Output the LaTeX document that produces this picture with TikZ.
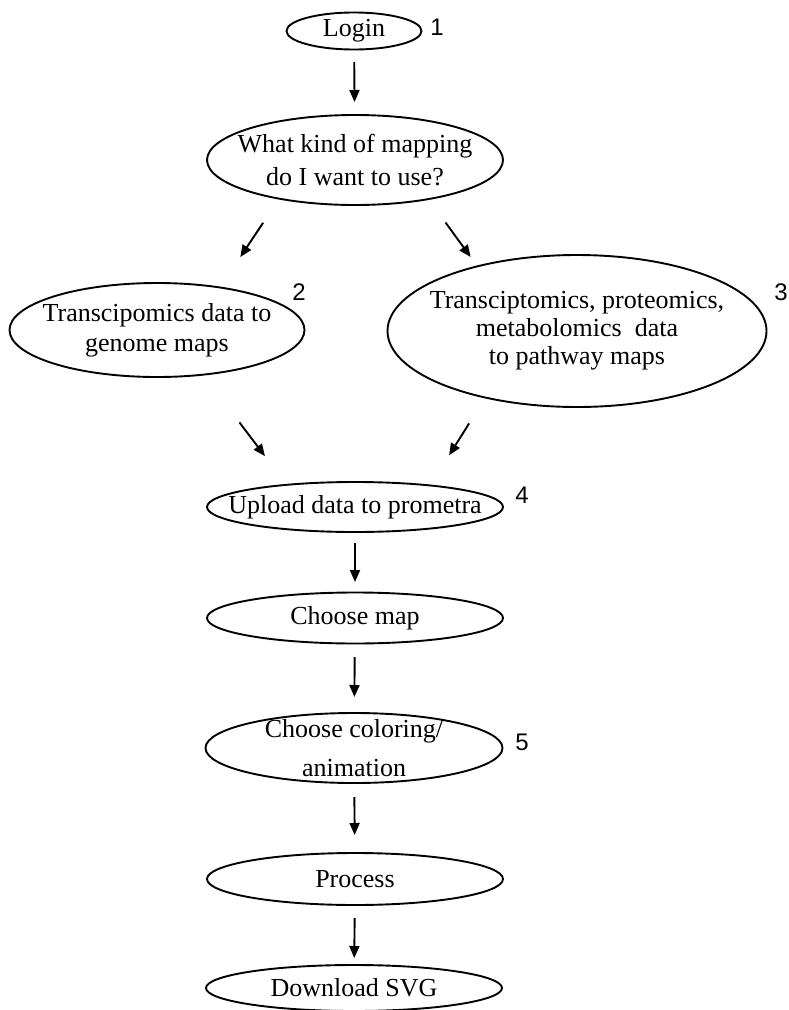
\documentclass[tikz,border=0pt]{standalone}
\usepackage{fontspec}
\setmainfont{Liberation Serif}
\newfontfamily\numfont{Liberation Sans}
\usetikzlibrary{shapes.geometric,arrows.meta}

\begin{document}
\begin{tikzpicture}[x=1pt,y=1pt]
  \tikzstyle{stage}=[ellipse,draw,line width=1.9pt,inner sep=-200pt,outer sep=0pt,
    align=center,font=\fontsize{26}{30}\selectfont]
  \tikzstyle{num}=[inner sep=0pt,font=\numfont\fontsize{24}{24}\selectfont]
  \tikzstyle{arr}=[line width=1.9pt,-{Triangle[length=12pt,width=10pt]}]
  \useasboundingbox (0,0) rectangle (788,-1010);
  % the flow, top to bottom
  \node(login)[stage,minimum width=135pt,minimum height=37pt] at (354,-31) {Login};
  \node(what)[stage,minimum width=296pt,minimum height=90pt] at (355,-160)
    {What kind of mapping\\[3pt]do I want to use?};
  \node(genome)[stage,minimum width=295pt,minimum height=94pt] at (157,-330)
    {Transcipomics data to\\genome maps};
  \node(pathway)[stage,minimum width=379pt,minimum height=152pt] at (577,-331)
    {Transciptomics, proteomics,\\[-2pt]metabolomics~~data\\[-2pt]to pathway maps};
  \node(upload)[stage,minimum width=296pt,minimum height=50pt] at (355,-507)
    {Upload data to prometra};
  \node(choose)[stage,minimum width=296pt,minimum height=51pt] at (355,-618) {Choose map};
  \node(color)[stage,minimum width=297pt,minimum height=70pt] at (354,-748)
    {Choose coloring/\\[9pt]animation};
  \node(proc)[stage,minimum width=296pt,minimum height=52pt] at (355,-879) {Process};
  \node(down)[stage,minimum width=296pt,minimum height=46pt] at (354,-988) {Download SVG};
  % step numbers
  \node(n1)[num] at (437,-27) {1};
  \node(n2)[num] at (299,-292) {2};
  \node(n3)[num] at (781,-292) {3};
  \node(n4)[num] at (522,-495) {4};
  \node(n5)[num] at (522,-742) {5};
  % arrows
  \draw[arr,shorten <=12.5pt,shorten >=13pt] (login) -- (what);
  \draw[arr,shorten <=29pt,shorten >=36.6pt] (what.207.2) -- (genome.34.3);
  \draw[arr,shorten <=29pt,shorten >=11.5pt] (what.332.8) -- (pathway.147.3);
  \draw[arr,shorten <=60pt,shorten >=36pt] (genome.316.4) -- (upload.162.8);
  \draw[arr,shorten <=30.6pt,shorten >=35.6pt] (pathway.216.8) -- (upload.16.9);
  \draw[arr,shorten <=11pt,shorten >=10.5pt] (upload) -- (choose);
  \draw[arr,shorten <=13.5pt,shorten >=16pt] (choose) -- (color);
  \draw[arr,shorten <=14pt,shorten >=18pt] (color) -- (proc);
  \draw[arr,shorten <=13pt,shorten >=7pt] (proc) -- (down);
\end{tikzpicture}
\end{document}
